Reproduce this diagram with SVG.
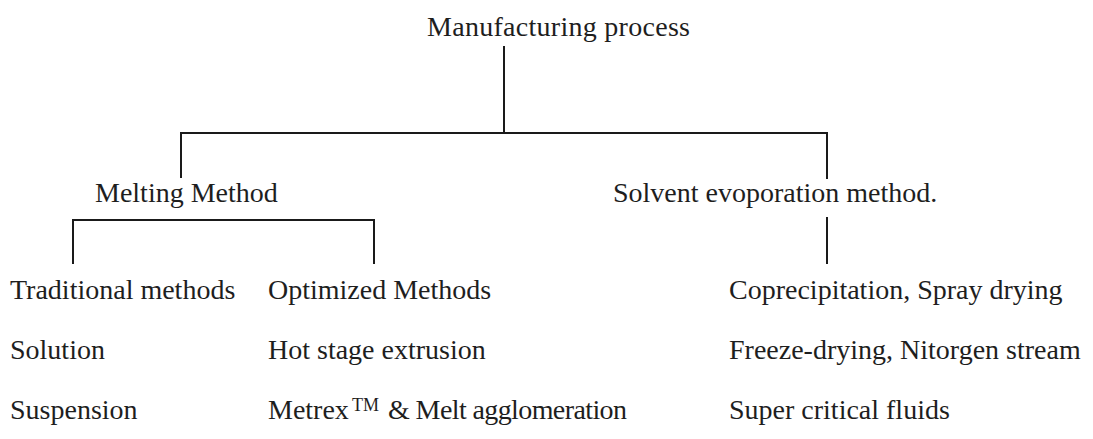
<svg xmlns="http://www.w3.org/2000/svg" width="1093" height="439" viewBox="0 0 1093 439">
<style>
  .t { font-family: "Liberation Serif", "Times New Roman", serif; font-size: 28px; fill: #1e1e1e; }
  .sup { font-size: 18px; }
  .c { stroke: #1a1a1a; stroke-width: 2; fill: none; stroke-linecap: square; }
</style>
<rect width="1093" height="439" fill="#ffffff"/>
<g id="connectors">
  <path class="c" d="M504 47 V133"/>
  <path class="c" d="M181 177 V133 H827 V178"/>
  <path class="c" d="M73 263 V220 H374 V263"/>
  <path class="c" d="M827 218 V263"/>
</g>
<g id="manufacturing-process"><text class="t" x="427" y="36" textLength="263">Manufacturing process</text></g>
<g id="melting-method"><text class="t" x="95" y="202">Melting Method</text></g>
<g id="solvent-evaporation"><text class="t" x="613" y="202">Solvent evoporation method.</text></g>
<g id="traditional-methods">
  <text class="t" x="10" y="299">Traditional methods</text>
  <text class="t" x="10" y="359">Solution</text>
  <text class="t" x="10" y="419">Suspension</text>
</g>
<g id="optimized-methods">
  <text class="t" x="268" y="299">Optimized Methods</text>
  <text class="t" x="268" y="359">Hot stage extrusion</text>
  <text class="t"><tspan x="268" y="419">Metrex</tspan><tspan class="sup" x="352" y="411">TM</tspan><tspan x="388" y="419" textLength="239">&amp; Melt agglomeration</tspan></text>
</g>
<g id="solvent-methods">
  <text class="t" x="729" y="299">Coprecipitation, Spray drying</text>
  <text class="t" x="729" y="359">Freeze-drying, Nitorgen stream</text>
  <text class="t" x="729" y="419">Super critical fluids</text>
</g>
</svg>
